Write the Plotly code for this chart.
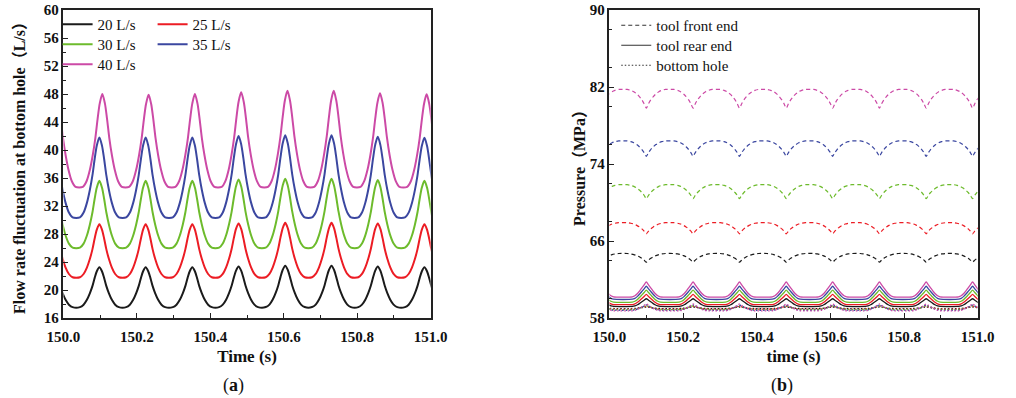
import plotly.graph_objects as go

# ---------------- panel (a): flow rate at bottom hole ----------------
labels_a = ["20 L/s", "25 L/s", "30 L/s", "35 L/s", "40 L/s"]
colors = ["#1b1b1b", "#ec1c24", "#6dbb2c", "#3b47a0", "#cc4aa6"]

# peak times (one before / one after the visible window included)
peak_times_a = [149.972, 150.098, 150.224, 150.351, 150.477, 150.604, 150.730, 150.856, 150.983, 151.109]
peak_times_a40 = [149.980, 150.106, 150.232, 150.358, 150.484, 150.610, 150.736, 150.862, 150.989, 151.115]

peaks_20 = [23.25, 23.25, 23.25, 23.25, 23.35, 23.45, 23.45, 23.35, 23.25, 23.25]
peaks_25 = [29.4, 29.4, 29.4, 29.4, 29.5, 29.6, 29.6, 29.5, 29.4, 29.4]
peaks_30 = [35.6, 35.6, 35.6, 35.6, 35.8, 35.9, 35.9, 35.7, 35.6, 35.6]
peaks_35 = [41.8, 41.8, 41.8, 41.8, 42.0, 42.1, 42.1, 41.9, 41.75, 41.75]
peaks_40 = [48.0, 48.0, 47.9, 48.0, 48.25, 48.45, 48.45, 48.1, 47.95, 47.95]
troughs_a = [17.5, 21.75, 25.95, 30.25, 34.6]

# pulse profile read from one cycle (offset from peak in s, fraction of amplitude)
pulse_off_a = [0.0, 0.007, 0.013, 0.019, 0.026, 0.034, 0.043, 0.053]
pulse_frac_a = [1.0, 0.9, 0.73, 0.53, 0.35, 0.19, 0.07, 0.01]

# ---------------- panel (b): pressure ----------------
cusp_times_b = [149.973, 150.100, 150.227, 150.353, 150.480, 150.606, 150.733, 150.860, 150.986, 151.113]

front_top = [64.7, 67.9, 71.85, 76.4, 81.75]
front_dip = [63.8, 66.75, 70.4, 74.8, 79.8]
dip_off_b = [0.0, 0.006, 0.012, 0.019, 0.026, 0.034, 0.042, 0.052]
dip_frac_b = [1.0, 0.76, 0.56, 0.38, 0.24, 0.12, 0.05, 0.0]

rear_base = [59.2, 59.4, 59.65, 59.95, 60.2]
rear_peak = [60.0, 60.45, 60.9, 61.3, 61.75]
hole_base = [58.98, 58.93, 58.88, 58.82, 58.75]
hole_peak = [59.15, 59.22, 59.28, 59.35, 59.45]
bump_off_b = [0.0, 0.006, 0.012, 0.018, 0.024, 0.031, 0.038]
bump_frac_b = [1.0, 0.8, 0.6, 0.4, 0.22, 0.07, 0.0]

legend_b = ["tool front end", "tool rear end", "bottom hole"]

SERIF = "Liberation Serif, Times New Roman, Noto Sans CJK SC, serif"


def pulse_series(times, lows, highs, offs, fracs, upward=True):
    xs, ys = [], []
    for t, lo, hi in zip(times, lows, highs):
        seq = [(-o, f) for o, f in zip(offs[::-1], fracs[::-1])] + [(o, f) for o, f in zip(offs[1:], fracs[1:])]
        for o, f in seq:
            xs.append(t + o)
            ys.append(lo + (hi - lo) * f if upward else hi - (hi - lo) * f)
    return xs, ys


fig = go.Figure()

peaks_all = [peaks_20, peaks_25, peaks_30, peaks_35, peaks_40]
legend_ids = ["legend", "legend", "legend2", "legend2", "legend3"]
for i in range(5):
    times = peak_times_a40 if i == 4 else peak_times_a
    xs, ys = pulse_series(times, [troughs_a[i]] * len(times), peaks_all[i], pulse_off_a, pulse_frac_a)
    fig.add_trace(go.Scatter(x=xs, y=ys, mode="lines", name=labels_a[i],
                             line=dict(color=colors[i], width=2, shape="spline", smoothing=0.8),
                             xaxis="x", yaxis="y", legend=legend_ids[i]))

n = len(cusp_times_b)
for i in range(5):
    xs, ys = pulse_series(cusp_times_b, [front_dip[i]] * n, [front_top[i]] * n, dip_off_b, dip_frac_b, upward=False)
    fig.add_trace(go.Scatter(x=xs, y=ys, mode="lines", showlegend=False,
                             line=dict(color=colors[i], width=1.2, dash="4px,3px", shape="spline", smoothing=0.6),
                             xaxis="x2", yaxis="y2"))
for i in range(5):
    xs, ys = pulse_series(cusp_times_b, [rear_base[i]] * n, [rear_peak[i]] * n, bump_off_b, bump_frac_b)
    fig.add_trace(go.Scatter(x=xs, y=ys, mode="lines", showlegend=False,
                             line=dict(color=colors[i], width=1.3, shape="spline", smoothing=0.6),
                             xaxis="x2", yaxis="y2"))
for i in range(5):
    xs, ys = pulse_series(cusp_times_b, [hole_base[i]] * n, [hole_peak[i]] * n, bump_off_b, bump_frac_b)
    fig.add_trace(go.Scatter(x=xs, y=ys, mode="lines", showlegend=False,
                             line=dict(color=colors[i], width=1.4, dash="1.5px,2px", shape="spline", smoothing=0.6),
                             xaxis="x2", yaxis="y2"))

# legend samples for panel (b), one legend per row
for name, dash, lg in zip(legend_b, ["4px,3px", "solid", "1.5px,2px"], ["legend4", "legend5", "legend6"]):
    fig.add_trace(go.Scatter(x=[None], y=[None], mode="lines", name=name,
                             line=dict(color="#333333", width=1.2, dash=dash),
                             xaxis="x2", yaxis="y2", legend=lg))

W, H = 1016, 398
MT, MB = 10, 80
PH = H - MT - MB


def px_x(x):
    return x / W


def px_y(y):
    return (H - MB - y) / PH


axis_common = dict(showline=True, linecolor="#222222", linewidth=1.5, mirror=True,
                   ticks="inside", ticklen=5, tickwidth=1.2, tickcolor="#222222",
                   showgrid=False, zeroline=False,
                   tickfont=dict(family=SERIF, size=15, color="#111111", weight="bold"))

legend_common = dict(bgcolor="rgba(0,0,0,0)", font=dict(family=SERIF, size=15, color="#111111"),
                     xanchor="left", yanchor="top", tracegroupgap=0)

fig.update_layout(
    width=W, height=H,
    margin=dict(l=0, r=0, t=MT, b=MB),
    paper_bgcolor="white", plot_bgcolor="white",
    xaxis=dict(domain=[px_x(48), px_x(428)], range=[150.0, 151.0], dtick=0.2, tick0=150.0,
               tickformat=".1f", minor=dict(dtick=0.1, ticks="inside", ticklen=3, tickcolor="#222222"),
               title=dict(text="Time (s)", font=dict(family=SERIF, size=17, color="#111111", weight="bold"), standoff=6),
               ticklabelstandoff=4, anchor="y", **axis_common),
    yaxis=dict(domain=[0, 1], range=[16, 60], dtick=4, tick0=16,
               minor=dict(dtick=2, ticks="inside", ticklen=3, tickcolor="#222222"),
               title=dict(text="Flow rate fluctuation at bottom hole（L/s）",
                          font=dict(family=SERIF, size=16, color="#111111", weight="bold"), standoff=14),
               ticklabelstandoff=0, anchor="x", **axis_common),
    xaxis2=dict(domain=[px_x(613), px_x(994)], range=[150.0, 151.0], dtick=0.2, tick0=150.0,
                tickformat=".1f", minor=dict(dtick=0.1, ticks="inside", ticklen=3, tickcolor="#222222"),
                title=dict(text="time (s)", font=dict(family=SERIF, size=17, color="#111111", weight="bold"), standoff=6),
                ticklabelstandoff=4, anchor="y2", **axis_common),
    yaxis2=dict(domain=[0, 1], range=[58, 90], dtick=8, tick0=58,
                minor=dict(dtick=4, ticks="inside", ticklen=3, tickcolor="#222222"),
                title=dict(text="Pressure（MPa）", font=dict(family=SERIF, size=16, color="#111111", weight="bold"), standoff=0),
                ticklabelstandoff=0, anchor="x2", **axis_common),
    legend=dict(x=px_x(42), y=px_y(8), orientation="h", entrywidth=50, **legend_common),
    legend2=dict(x=px_x(42), y=px_y(28), orientation="h", entrywidth=50, **legend_common),
    legend3=dict(x=px_x(42), y=px_y(48), orientation="h", entrywidth=50, **legend_common),
    legend4=dict(x=px_x(620), y=px_y(9), orientation="v", **legend_common),
    legend5=dict(x=px_x(620), y=px_y(29), orientation="v", **legend_common),
    legend6=dict(x=px_x(620), y=px_y(49), orientation="v", **legend_common),
    annotations=[
        dict(text="(<b>a</b>)", x=px_x(224), y=px_y(385), xref="paper", yref="paper", showarrow=False,
             xanchor="center", yanchor="middle", font=dict(family=SERIF, size=18, color="#111111")),
        dict(text="(<b>b</b>)", x=px_x(791), y=px_y(385), xref="paper", yref="paper", showarrow=False,
             xanchor="center", yanchor="middle", font=dict(family=SERIF, size=18, color="#111111")),
    ],
)

fig.write_html("out.html")
